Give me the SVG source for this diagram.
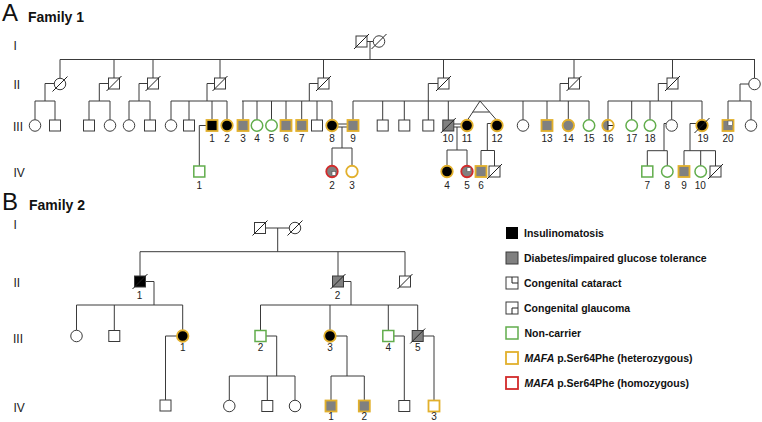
<svg xmlns="http://www.w3.org/2000/svg" width="762" height="422" viewBox="0 0 762 422">
<style>
.ln{stroke:#3a3a3a;stroke-width:1;fill:none}
.s{stroke:#3a3a3a;stroke-width:1;fill:#fff}
.k{fill:#000}
.d{fill:#808080}
.y{stroke:#e2b02c;stroke-width:1.8}
.g{stroke:#62ad4c;stroke-width:1.5;fill:#fff}
.r{stroke:#d22a2a;stroke-width:1.8}
.sl{stroke:#222;stroke-width:1;fill:none}
.q{fill:#fff;stroke:#555;stroke-width:0.6}
.n{font-family:"Liberation Sans",Arial,sans-serif;font-size:10px;text-anchor:middle;fill:#222}
.gen{font-family:"Liberation Sans",Arial,sans-serif;font-size:12px;fill:#222}
.big{font-family:"Liberation Sans",Arial,sans-serif;font-size:24px;fill:#111}
.fam{font-family:"Liberation Sans",Arial,sans-serif;font-size:14px;font-weight:bold;fill:#111}
.lg{font-family:"Liberation Sans",Arial,sans-serif;font-size:10.5px;font-weight:bold;fill:#111}
</style>

<!-- Titles and generation labels -->
<text class="big" x="2" y="21">A</text>
<text class="fam" x="28" y="22">Family 1</text>
<text class="gen" x="13.5" y="50">I</text>
<text class="gen" x="13.5" y="89.3">II</text>
<text class="gen" x="13" y="130.5">III</text>
<text class="gen" x="13.5" y="177.3">IV</text>
<text class="big" x="2" y="210">B</text>
<text class="fam" x="29" y="210">Family 2</text>
<text class="gen" x="13.5" y="229.3">I</text>
<text class="gen" x="13.5" y="286.7">II</text>
<text class="gen" x="13" y="342.7">III</text>
<text class="gen" x="13.5" y="411.7">IV</text>

<!-- Connectors -->
<g id="connectors" class="ln">
<!-- Family 1 -->
<path d="M367,41.5H373.3M370,41.5V59.5M60,59.5H755"/>
<path d="M60,59.5V78.25M114,59.5V78M153,59.5V78M220,59.5V78M323.5,59.5V78M443.5,59.5V78M574,59.5V78M672.5,59.5V78M754.5,59.5V78.25"/>
<!-- II-1 -->
<path d="M54.25,83.5H45V101M35,101H55M35,101V119.75M55,101V120"/>
<!-- II-2 -->
<path d="M108.5,83.5H99.3V101M89,101H110M89,101V120M110,101V119.75"/>
<!-- II-3 -->
<path d="M147.5,83.5H139V101M129,101H150M129,101V119.75M150,101V120"/>
<!-- II-4 -->
<path d="M214.5,83.5H207V101M171,101H227M171,101V119.75M189,101V120M212,101V120M227,101V119.75"/>
<!-- II-5 -->
<path d="M318,83.5H309.3V101M242,101H332M243,101V120M257,101V119.75M271.5,101V119.75M286,101V120M301.7,101V120M317,101V120M332,101V119.75"/>
<!-- II-6 and II-7 -->
<path d="M438,83.5H428.3V101M353,101H589M353,101V120M382.7,101V120M404.3,101V120M428.3,101V120M448.3,101V120"/>
<path d="M568.5,83.5H560V101M523,101V119.75M547,101V120M568.3,101V119.75M589,101V119.75"/>
<path d="M480,101L467.5,120M480,101L496.5,120M472.8,112H489.6"/>
<!-- II-8 -->
<path d="M667,83.5H658.3V101M608,101H702M608,101V119.75M631.7,101V119.75M650,101V119.75M671.7,101V119.75M702,101V119.75"/>
<!-- II-9 -->
<path d="M748.75,84H740V101M728,101H751M728,101V120M751,101V119.75"/>
<!-- III to IV -->
<path d="M206.5,125.5H199.3V166"/>
<path d="M337.75,124H347.5M337.75,127H347.5M342,127V148M332,148H352M332,148V165.75M352,148V165.75"/>
<path d="M453.8,124H461.25M453.8,127H461.25M457,127V150M447,150H467M447,150V165.75M467,150V165.75"/>
<path d="M491.25,123.5H487.3V150.5M481,150.5H494.5M481,150.5V166M494.5,150.5V166"/>
<path d="M666,123.5H664V150.7M647.3,150.7H667.3M647.3,150.7V166M667.3,150.7V165.75"/>
<path d="M696.25,123.5H690V150.7M684,150.7H715.5M684,150.7V166M700.7,150.7V165.75M715.5,150.7V166"/>
<!-- Family 2 -->
<path d="M265.5,228H289.25M277.7,228V251.7M140,251.7H405M140,251.7V276M338,251.7V276M405,251.7V276"/>
<path d="M145.5,281.5H154V305M76.5,305H182.7M76.5,305V330.25M114.3,305V330.5M182.7,305V330.25"/>
<path d="M343.5,281.5H351V305M260.5,305H417.7M260.5,305V330.5M330,305V330.25M388.3,305V330.5M417.7,305V330.5"/>
<path d="M176.95,336H165.5V400"/>
<path d="M266,336H276.7V376M229.3,376H295M229.3,376V400.25M267.3,376V400.5M295,376V400.25"/>
<path d="M335.75,336H347V376M331,376H364.3M331,376V400.5M364.3,376V400.5"/>
<path d="M393.8,336H404.3V400.5"/>
<path d="M423.2,336H434V400.5"/>
</g>

<!-- Family 1, generation I -->
<g id="f1-I-1"><rect class="s" x="356" y="36" width="11" height="11"/><path class="sl" d="M354,49L369,34"/></g>
<g id="f1-I-2"><circle class="s" cx="379" cy="41.5" r="5.75"/><path class="sl" d="M371.5,49L386.5,34"/></g>

<!-- Family 1, generation II -->
<g id="f1-II-1"><circle class="s" cx="60" cy="84" r="5.75"/><path class="sl" d="M52.5,91.5L67.5,76.5"/></g>
<g id="f1-II-2"><rect class="s" x="108.5" y="78" width="11" height="11"/><path class="sl" d="M106.5,91L121.5,76"/></g>
<g id="f1-II-3"><rect class="s" x="147.5" y="78" width="11" height="11"/><path class="sl" d="M145.5,91L160.5,76"/></g>
<g id="f1-II-4"><rect class="s" x="214.5" y="78" width="11" height="11"/><path class="sl" d="M212.5,91L227.5,76"/></g>
<g id="f1-II-5"><rect class="s" x="318" y="78" width="11" height="11"/><path class="sl" d="M316,91L331,76"/></g>
<g id="f1-II-6"><rect class="s" x="438" y="78" width="11" height="11"/><path class="sl" d="M436,91L451,76"/></g>
<g id="f1-II-7"><rect class="s" x="568.5" y="78" width="11" height="11"/><path class="sl" d="M566.5,91L581.5,76"/></g>
<g id="f1-II-8"><rect class="s" x="667" y="78" width="11" height="11"/><path class="sl" d="M665,91L680,76"/></g>
<g id="f1-II-9"><circle class="s" cx="754.5" cy="84" r="5.75"/></g>

<!-- Family 1, generation III -->
<g id="f1-III-a"><circle class="s" cx="35" cy="125.5" r="5.75"/></g>
<g id="f1-III-b"><rect class="s" x="49.5" y="120" width="11" height="11"/></g>
<g id="f1-III-c"><rect class="s" x="83.5" y="120" width="11" height="11"/></g>
<g id="f1-III-d"><circle class="s" cx="110" cy="125.5" r="5.75"/></g>
<g id="f1-III-e"><circle class="s" cx="129" cy="125.5" r="5.75"/></g>
<g id="f1-III-f"><rect class="s" x="144.5" y="120" width="11" height="11"/></g>
<g id="f1-III-g"><circle class="s" cx="171" cy="125.5" r="5.75"/></g>
<g id="f1-III-h"><rect class="s" x="183.5" y="120" width="11" height="11"/></g>
<g id="f1-III-1"><rect class="k y" x="206.5" y="120" width="11" height="11"/><text class="n" x="212" y="142">1</text></g>
<g id="f1-III-2"><circle class="k y" cx="227" cy="125.5" r="5.75"/><text class="n" x="227" y="142">2</text></g>
<g id="f1-III-3"><rect class="d y" x="237.5" y="120" width="11" height="11"/><text class="n" x="243" y="142">3</text></g>
<g id="f1-III-4"><circle class="g" cx="257" cy="125.5" r="5.75"/><text class="n" x="257" y="142">4</text></g>
<g id="f1-III-5"><circle class="g" cx="271.5" cy="125.5" r="5.75"/><text class="n" x="271.5" y="142">5</text></g>
<g id="f1-III-6"><rect class="d y" x="280.5" y="120" width="11" height="11"/><text class="n" x="286" y="142">6</text></g>
<g id="f1-III-7"><rect class="d y" x="296.2" y="120" width="11" height="11"/><text class="n" x="301.7" y="142">7</text></g>
<g id="f1-III-i"><rect class="s" x="311.5" y="120" width="11" height="11"/></g>
<g id="f1-III-8"><circle class="k y" cx="332" cy="125.5" r="5.75"/><text class="n" x="332" y="142">8</text></g>
<g id="f1-III-9"><rect class="d y" x="347.5" y="120" width="11" height="11"/><text class="n" x="353" y="142">9</text></g>
<g id="f1-III-j"><rect class="s" x="377.2" y="120" width="11" height="11"/></g>
<g id="f1-III-k"><rect class="s" x="398.8" y="120" width="11" height="11"/></g>
<g id="f1-III-l"><rect class="s" x="422.8" y="120" width="11" height="11"/></g>
<g id="f1-III-10"><rect class="s d" x="442.8" y="120" width="11" height="11"/><path class="sl" d="M440.8,133L455.8,118"/><text class="n" x="448" y="142">10</text></g>
<g id="f1-III-11"><circle class="k y" cx="467" cy="125.5" r="5.75"/><text class="n" x="467" y="142">11</text></g>
<g id="f1-III-12"><circle class="k y" cx="497" cy="125.5" r="5.75"/><text class="n" x="497" y="142">12</text></g>
<g id="f1-III-m"><circle class="s" cx="523" cy="125.5" r="5.75"/></g>
<g id="f1-III-13"><rect class="d y" x="541.5" y="120" width="11" height="11"/><text class="n" x="547" y="142">13</text></g>
<g id="f1-III-14"><circle class="d y" cx="568.3" cy="125.5" r="5.75"/><text class="n" x="568.3" y="142">14</text></g>
<g id="f1-III-15"><circle class="g" cx="589" cy="125.5" r="5.75"/><text class="n" x="589" y="142">15</text></g>
<g id="f1-III-16"><circle cx="608" cy="125.5" r="5.75" fill="#fff"/><path class="d" d="M608,119.75A5.75,5.75 0 0 0 608,131.25Z"/><path class="sl" stroke-width="0.7" d="M608,119.75V131.25M608,125.5H613.75"/><circle class="y" cx="608" cy="125.5" r="5.75" fill="none"/><text class="n" x="608" y="142">16</text></g>
<g id="f1-III-17"><circle class="g" cx="631.7" cy="125.5" r="5.75"/><text class="n" x="631.7" y="142">17</text></g>
<g id="f1-III-18"><circle class="g" cx="650" cy="125.5" r="5.75"/><text class="n" x="650" y="142">18</text></g>
<g id="f1-III-n"><circle class="s" cx="671.7" cy="125.5" r="5.75"/></g>
<g id="f1-III-19"><circle class="k y" cx="702" cy="125.5" r="5.75"/><path class="sl" d="M694.5,133L709.5,118"/><text class="n" x="703" y="142">19</text></g>
<g id="f1-III-20"><rect class="d y" x="722.5" y="120" width="11" height="11"/><rect class="q" x="728" y="121" width="4.5" height="4.5"/><text class="n" x="728" y="142">20</text></g>
<g id="f1-III-o"><circle class="s" cx="751" cy="125.5" r="5.75"/></g>

<!-- Family 1, generation IV -->
<g id="f1-IV-1"><rect class="g" x="193.8" y="166" width="11" height="11"/><text class="n" x="199.3" y="189">1</text></g>
<g id="f1-IV-2"><circle class="d r" cx="332" cy="171.5" r="5.75"/><rect class="q" x="332" y="171.5" width="3.8" height="3.8"/><text class="n" x="332" y="189">2</text></g>
<g id="f1-IV-3"><circle class="y" fill="#fff" cx="352" cy="171.5" r="5.75"/><text class="n" x="352" y="189">3</text></g>
<g id="f1-IV-4"><circle class="k y" cx="447" cy="171.5" r="5.75"/><text class="n" x="447" y="189">4</text></g>
<g id="f1-IV-5"><circle class="d r" cx="467" cy="171.5" r="5.75"/><rect class="q" x="467" y="167.7" width="3.8" height="3.8"/><text class="n" x="467" y="189">5</text></g>
<g id="f1-IV-6"><rect class="d y" x="475.5" y="166" width="11" height="11"/><text class="n" x="481" y="189">6</text></g>
<g id="f1-IV-p"><rect class="s" x="489" y="166" width="11" height="11"/><path class="sl" d="M487,179L502,164"/></g>
<g id="f1-IV-7"><rect class="g" x="641.8" y="166" width="11" height="11"/><text class="n" x="647.3" y="189">7</text></g>
<g id="f1-IV-8"><circle class="g" cx="667.3" cy="171.5" r="5.75"/><text class="n" x="667.3" y="189">8</text></g>
<g id="f1-IV-9"><rect class="d y" x="678.5" y="166" width="11" height="11"/><text class="n" x="684" y="189">9</text></g>
<g id="f1-IV-10"><circle class="g" cx="700.7" cy="171.5" r="5.75"/><text class="n" x="700.2" y="189">10</text></g>
<g id="f1-IV-q"><rect class="s" x="710" y="166" width="11" height="11"/><path class="sl" d="M708,179L723,164"/></g>

<!-- Family 2, generation I -->
<g id="f2-I-1"><rect class="s" x="254.5" y="222.5" width="11" height="11"/><path class="sl" d="M252.5,235.5L267.5,220.5"/></g>
<g id="f2-I-2"><circle class="s" cx="295" cy="228" r="5.75"/><path class="sl" d="M287.5,235.5L302.5,220.5"/></g>

<!-- Family 2, generation II -->
<g id="f2-II-1"><rect class="s k" x="134.5" y="276" width="11" height="11"/><path class="sl" d="M132.5,289L147.5,274"/><text class="n" x="139.5" y="298.5">1</text></g>
<g id="f2-II-2"><rect class="s d" x="332.5" y="276" width="11" height="11"/><path class="sl" d="M330.5,289L345.5,274"/><text class="n" x="337.5" y="298.5">2</text></g>
<g id="f2-II-3"><rect class="s" x="399.5" y="276" width="11" height="11"/><path class="sl" d="M397.5,289L412.5,274"/></g>

<!-- Family 2, generation III -->
<g id="f2-III-a"><circle class="s" cx="76.5" cy="336" r="5.75"/></g>
<g id="f2-III-b"><rect class="s" x="108.8" y="330.5" width="11" height="11"/></g>
<g id="f2-III-1"><circle class="k y" cx="182.7" cy="336" r="5.75"/><text class="n" x="182.7" y="351">1</text></g>
<g id="f2-III-2"><rect class="g" x="255" y="330.5" width="11" height="11"/><text class="n" x="260.5" y="351">2</text></g>
<g id="f2-III-3"><circle class="k y" cx="330" cy="336" r="5.75"/><text class="n" x="330" y="351">3</text></g>
<g id="f2-III-4"><rect class="g" x="382.8" y="330.5" width="11" height="11"/><text class="n" x="388.3" y="351">4</text></g>
<g id="f2-III-5"><rect class="s d" x="412.2" y="330.5" width="11" height="11"/><path class="sl" d="M410.2,343.5L425.2,328.5"/><text class="n" x="417.7" y="351">5</text></g>

<!-- Family 2, generation IV -->
<g id="f2-IV-a"><rect class="s" x="160" y="400" width="11" height="11"/></g>
<g id="f2-IV-b"><circle class="s" cx="229.3" cy="406" r="5.75"/></g>
<g id="f2-IV-c"><rect class="s" x="261.8" y="400.5" width="11" height="11"/></g>
<g id="f2-IV-d"><circle class="s" cx="295" cy="406" r="5.75"/></g>
<g id="f2-IV-1"><rect class="d y" x="325.5" y="400.5" width="11" height="11"/><text class="n" x="331" y="420">1</text></g>
<g id="f2-IV-2"><rect class="d y" x="358.8" y="400.5" width="11" height="11"/><text class="n" x="364.3" y="420">2</text></g>
<g id="f2-IV-e"><rect class="s" x="398.8" y="400.5" width="11" height="11"/></g>
<g id="f2-IV-3"><rect class="y" fill="#fff" x="428.5" y="400.5" width="11" height="11"/><text class="n" x="434" y="420">3</text></g>

<!-- Legend -->
<g id="legend">
<g id="lg-insulinomatosis"><rect x="506" y="227" width="12" height="12" fill="#000"/><text class="lg" x="524" y="237">Insulinomatosis</text></g>
<g id="lg-diabetes"><rect class="s d" x="506" y="252" width="12" height="12"/><text class="lg" x="524" y="262">Diabetes/impaired glucose tolerance</text></g>
<g id="lg-cataract"><rect class="s" x="506" y="277" width="12" height="12"/><path class="sl" stroke-width="0.7" d="M512,277V283H518"/><text class="lg" x="524" y="287">Congenital cataract</text></g>
<g id="lg-glaucoma"><rect class="s" x="506" y="302" width="12" height="12"/><path class="sl" stroke-width="0.7" d="M512,314V308H518"/><text class="lg" x="524" y="312">Congenital glaucoma</text></g>
<g id="lg-noncarrier"><rect class="g" x="506" y="327" width="12" height="12"/><text class="lg" x="524.5" y="337">Non-carrier</text></g>
<g id="lg-het"><rect class="y" fill="#fff" x="506" y="352" width="12" height="12"/><text class="lg" x="524.5" y="362"><tspan font-style="italic">MAFA</tspan> p.Ser64Phe (heterozygous)</text></g>
<g id="lg-hom"><rect class="r" fill="#fff" x="506" y="377" width="12" height="12"/><text class="lg" x="524.5" y="387"><tspan font-style="italic">MAFA</tspan> p.Ser64Phe (homozygous)</text></g>
</g>
</svg>
